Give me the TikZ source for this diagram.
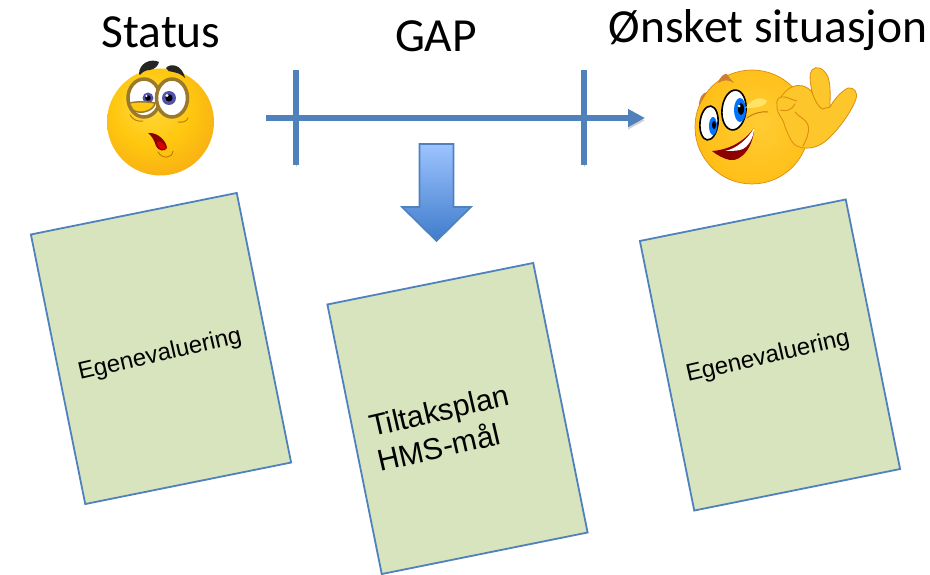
\documentclass[tikz,border=0pt]{standalone}
\usepackage{fontspec}
\setmainfont{Liberation Sans}
\newfontfamily\titlefont{Carlito}
\usetikzlibrary{arrows.meta,positioning}
\definecolor{linjeblue}{HTML}{4F81BD}
\definecolor{sheetgreen}{HTML}{D7E4BD}
\definecolor{arrowtop}{HTML}{9DC3FF}
\definecolor{arrowbottom}{HTML}{3F7CCB}
\definecolor{ringgold}{HTML}{9A7A2A}
\definecolor{handyellow}{HTML}{FDC62A}
\definecolor{handedge}{HTML}{DD8C10}
\definecolor{ballA}{HTML}{FFDB40}
\definecolor{ballB}{HTML}{FFC70F}
\definecolor{ballC}{HTML}{F7AB14}
\definecolor{ballD}{HTML}{EB8C12}
\definecolor{ballE}{HTML}{C2610F}
\definecolor{goalA}{HTML}{FFCC33}
\definecolor{goalB}{HTML}{FFBD14}
\definecolor{goalC}{HTML}{FAAD0D}
\definecolor{goalD}{HTML}{ED990D}
\pgfdeclareradialshading{statusball}{\pgfpoint{-6bp}{10bp}}{
	color(0bp)=(ballA);
	color(18bp)=(ballB);
	color(34bp)=(ballC);
	color(46bp)=(ballD);
	color(58bp)=(ballE)}
\pgfdeclareradialshading{goalball}{\pgfpoint{4bp}{2bp}}{
	color(0bp)=(goalA);
	color(30bp)=(goalB);
	color(45bp)=(goalC);
	color(54bp)=(goalD)}
\tikzset{
	x=1pt,
	y=-1pt,
	>={Triangle[length=17pt,width=17pt]},
	title/.style={font=\titlefont\fontsize{47.5}{50}\selectfont, inner sep=0pt},
	sheet/.style={draw=linjeblue, line width=1.8pt, fill=sheetgreen, rotate=11.4,
		minimum width=210pt, minimum height=275pt, inner sep=0pt},
	sheettext/.style={rotate=13, align=left, inner sep=0pt},
	linje/.style={draw=linjeblue, line width=5.5pt,
		preaction={draw=black, opacity=.18, transform canvas={yshift=-2.5pt}}},
	brow/.style={fill=black!85},
	eyering/.style={draw=ringgold, line width=3.5pt, fill=white},
	crease/.style={draw=handedge!85!black, line width=.9pt, line cap=round},
	handline/.style={draw=handedge, line width=.9pt, line cap=round},
}
\begin{document}
\begin{tikzpicture}
	\useasboundingbox (0,0) rectangle (930,575);

	\node[title] (status) at (161,32) {Status};
	\node[title] (gap) at (436,36) {GAP};
	\node[title] (onsket) at (768,30) {Ønsket situasjon};

	% arrow with two marks
	\coordinate (start) at (266,118);
	\coordinate (end) at (645,118);
	\coordinate (a1) at (296,70);
	\coordinate (a2) at (296,165);
	\coordinate (b1) at (584,70);
	\coordinate (b2) at (584,165);
	\draw[linje, ->] (start) -- (end);
	\draw[linje] (a1) -- (a2);
	\draw[linje] (b1) -- (b2);

	\draw[draw=linjeblue, line width=1.6pt, top color=arrowtop, bottom color=arrowbottom]
		(419.5,144) -- (453.5,144) -- (453.5,207) -- (471,207) -- (436.5,241) -- (402,207) -- (419.5,207) -- cycle;

	\node[sheet] (left) at (161,348.5) {};
	\node[sheet] (mid) at (457.5,418.5) {};
	\node[sheet] (right) at (770,355) {};

	\node[sheettext, font=\fontsize{24}{28}\selectfont] (lefttext) at (160,355) {Egenevaluering};
	\node[sheettext, font=\fontsize{30}{36}\selectfont] (midtext) at (443,428) {Tiltaksplan\\HMS-mål};
	\node[sheettext, font=\fontsize{24}{28}\selectfont] (righttext) at (768,357) {Egenevaluering};

	% status face
	\shade[shading=statusball] (160.5,122) circle (53.5);
	\fill[brow] (139,74) .. controls (139,63) and (151,58) .. (159,62) .. controls (158,66) and (155,69) .. (150,70) .. controls (146,70) and (142,72) .. (140,75) -- cycle;
	\fill[brow] (166,68) .. controls (170,63) and (182,64) .. (185,78) .. controls (181,74) and (178,73) .. (173,72) .. controls (170,72) and (167,71) .. (166,68) -- cycle;
	\draw[eyering] (144,98) ellipse (16 and 19);
	\draw[eyering] (172,98) ellipse (15.5 and 19);
	\fill[blue!35!gray] (148,98) circle (5.5);
	\fill[black] (148,98) circle (2.8);
	\fill[white] (146.5,96) circle (1.2);
	\fill[blue!35!gray] (169,98) circle (7);
	\fill[black] (169,98) circle (3.6);
	\fill[white] (167,95.5) circle (1.6);
	\fill[ballB, draw=ringgold, line width=1.5pt] (129,103) .. controls (139,101) and (150,102) .. (155,103) .. controls (154,111) and (140,115) .. (133,110) -- cycle;
	\draw[crease] (130,115) .. controls (133,120) and (138,122) .. (143,121);
	\draw[crease] (178,122) .. controls (183,123) and (187,121) .. (188,118);
	\fill[red!55!black] (148,133) .. controls (157,132) and (166,140) .. (167,148) .. controls (165,152) and (158,151) .. (156,146) .. controls (154,140) and (152,136) .. (148,133) -- cycle;
	\fill[red!85!black] (157,142) .. controls (160,140) and (166,145) .. (166,148) .. controls (163,151) and (158,149) .. (157,142) -- cycle;
	\draw[crease] (158,152) .. controls (162,159) and (172,159) .. (173,151);

	% goal face
	\shade[shading=goalball, draw=handedge, line width=.7pt] (752,127) circle (57);
	\fill[brown!80!orange] (718,83) .. controls (720,76) and (725,73) .. (727,74) .. controls (729,78) and (732,80) .. (734,83) .. controls (728,79) and (723,80) .. (718,83) -- cycle;
	\fill[brown!80!orange] (699,106) .. controls (699,98) and (702,93) .. (707,92) .. controls (704,97) and (702,101) .. (699,106) -- cycle;
	\draw[draw=black, line width=1.6pt, fill=white, rotate around={-6:(709,123)}] (709,123) ellipse (9 and 17);
	\draw[draw=black, line width=1.6pt, fill=white, rotate around={-6:(734,110)}] (734,110) ellipse (12 and 20);
	\fill[blue!55!cyan] (713,126) ellipse (4 and 9);
	\fill[black] (714,125) ellipse (2 and 4);
	\fill[blue!55!cyan] (740,110) ellipse (6 and 12);
	\fill[black] (741,109) ellipse (3 and 6);
	\fill[white] (739,106) circle (1.5);
	\fill[red!55!black] (712,151) .. controls (728,150) and (744,142) .. (754,128) .. controls (754,145) and (742,162) .. (730,160) .. controls (724,159) and (717,155) .. (712,151) -- cycle;
	\fill[white] (725,151) .. controls (736,149) and (748,139) .. (754,128) .. controls (754,136) and (749,148) .. (740,150) .. controls (735,151) and (730,151) .. (725,151) -- cycle;
	\draw[crease] (747,118) .. controls (752,114) and (761,111) .. (768,112);
	\fill[yellow!40!white, opacity=.55] (745,108) .. controls (752,98) and (762,96) .. (767,101) .. controls (765,108) and (752,108) .. (745,108) -- cycle;

	% hand
	\fill[handyellow, draw=handedge, line width=.8pt] (792,87) .. controls (798,84) and (806,85) .. (812,92)
		.. controls (810,82) and (809,73) .. (812,70) .. controls (816,65) and (824,68) .. (828,77)
		.. controls (831,86) and (830,97) .. (830,107) .. controls (834,100) and (840,92) .. (848,88)
		.. controls (854,87) and (858,92) .. (856,99) .. controls (853,108) and (842,126) .. (828,139)
		.. controls (820,147) and (808,150) .. (800,147) .. controls (792,146) and (789,136) .. (785,127)
		.. controls (784,120) and (780,117) .. (778,112) .. controls (776,104) and (776,98) .. (781,97)
		.. controls (784,93) and (787,89) .. (792,87) -- cycle;
	\draw[handline] (780,110) .. controls (786,112) and (792,110) .. (795,104);
	\draw[handline] (781,97) .. controls (786,96) and (792,100) .. (797,101);
	\draw[handline] (795,112) .. controls (800,118) and (806,119) .. (808,125) .. controls (810,133) and (806,140) .. (803,146);
	\draw[handline] (812,92) .. controls (814,98) and (816,104) .. (822,109) -- (830,107);
\end{tikzpicture}
\end{document}
